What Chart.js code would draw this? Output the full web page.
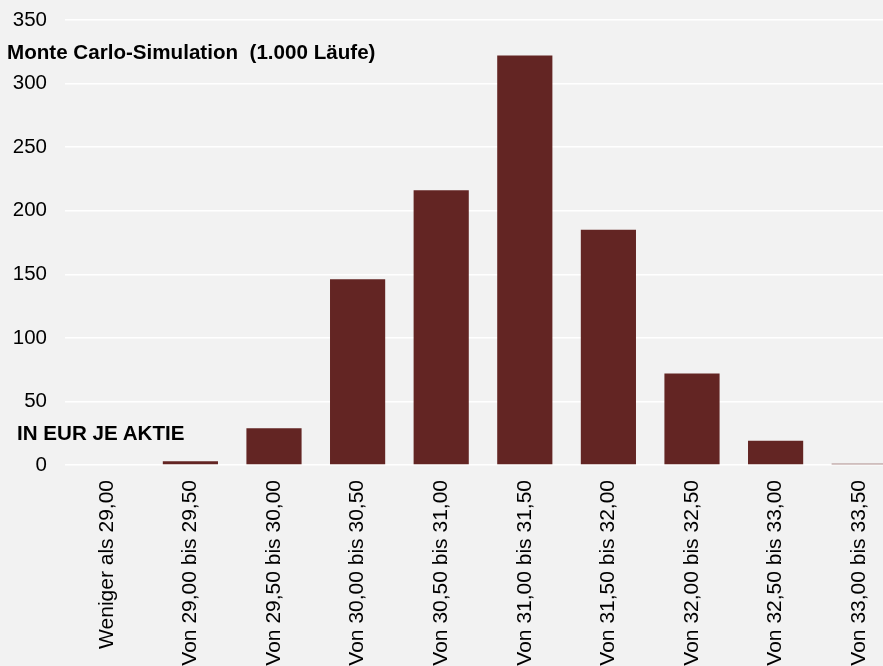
<!DOCTYPE html>
<html>
<head>
<meta charset="utf-8">
<script src="https://cdn.jsdelivr.net/npm/chart.js@4"></script>
<style>
  html, body { margin:0; padding:0; background:#f2f2f2; overflow:hidden; width:883px; height:666px; }
  #wrap { position:absolute; left:0; top:0; width:901px; height:666px; }
  .lbl { position:absolute; font-family:"Liberation Sans", Arial, sans-serif; font-weight:bold; font-size:20.6px; line-height:23px; color:#000; white-space:pre; }
</style>
</head>
<body>
<div id="wrap"><canvas id="c"></canvas></div>
<div class="lbl" style="left:7px; top:40px;">Monte Carlo-Simulation  (1.000 Läufe)</div>
<div class="lbl" style="left:17px; top:421px;">IN EUR JE AKTIE</div>
<script>
const categories = ["Weniger als 29,00","Von 29,00 bis 29,50","Von 29,50 bis 30,00","Von 30,00 bis 30,50","Von 30,50 bis 31,00","Von 31,00 bis 31,50","Von 31,50 bis 32,00","Von 32,00 bis 32,50","Von 32,50 bis 33,00","Von 33,00 bis 33,50"];
const runs = [0, 3, 29, 146, 216, 322, 185, 72, 19, 1];
const yTicks = [0, 50, 100, 150, 200, 250, 300, 350];

const yFont = { family: "'Liberation Sans', Arial, sans-serif", size: 20.5 };
const xFont = { family: "'Liberation Sans', Arial, sans-serif", size: 21 };
new Chart(document.getElementById('c'), {
  type: 'bar',
  data: { labels: categories, datasets: [{ data: runs, backgroundColor: '#632523', barPercentage: 0.66, categoryPercentage: 1.0 }] },
  options: {
    responsive: true, maintainAspectRatio: false, animation: false,
    layout: { padding: { top: 20, right: 0, left: 0, bottom: 0 } },
    plugins: { legend: { display: false }, tooltip: { enabled: false } },
    scales: {
      x: {
        grid: { display: false }, border: { display: false },
        ticks: { font: xFont, color: '#000', minRotation: 90, maxRotation: 90, padding: 7, autoSkip: false },
        afterFit: s => { s.height = 201; s.paddingLeft = 0; s.paddingRight = 0; }
      },
      y: {
        min: 0, max: 350,
        afterBuildTicks: s => { s.ticks = yTicks.map(v => ({ value: v })); },
        grid: { color: '#ffffff', lineWidth: 1.5, drawTicks: false }, border: { display: false },
        ticks: { font: yFont, color: '#000', padding: 18 },
        afterFit: s => { s.width = 65; s.paddingTop = 0; s.paddingBottom = 0; }
      }
    }
  }
});
</script>
</body>
</html>
